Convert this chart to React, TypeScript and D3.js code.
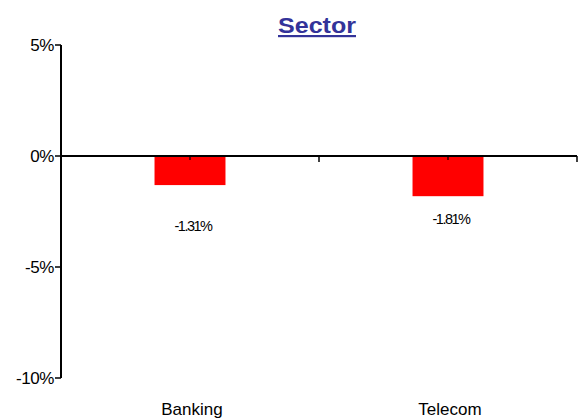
import React from "react";
import * as d3 from "d3";

const categories = ["Banking", "Telecom"];
const values = [-1.31, -1.81];
const valueLabels = ["-1.31%", "-1.81%"];
const labelPositions = [-3.15, -2.85];
const yTicks = [5, 0, -5, -10];
const yTickLabels = ["5%", "0%", "-5%", "-10%"];
const title = "Sector";

const W = 582;
const H = 419;
const margin = { left: 61, right: 5, top: 45, bottom: 41 };

export default function App() {
  const x = d3
    .scaleBand<string>()
    .domain(categories)
    .range([margin.left, W - margin.right])
    .paddingInner(0)
    .paddingOuter(0);
  const y = d3.scaleLinear().domain([-10, 5]).range([H - margin.bottom, margin.top]);
  const barW = x.bandwidth() * 0.275;
  const font = "'Liberation Sans', Arial, sans-serif";
  const boundaries = [margin.left, ...categories.map((c) => (x(c) as number) + x.bandwidth())];

  return (
    <svg
      width={W}
      height={H}
      style={{ position: "absolute", left: 0, top: 0, background: "#fff" }}
      fontFamily={font}
    >
      <text
        x={317}
        y={33}
        textAnchor="middle"
        fontSize={22}
        fontWeight="bold"
        fill="#333399"
        textDecoration="underline"
        textLength={78}
        lengthAdjust="spacingAndGlyphs"
      >
        {title}
      </text>
      {categories.map((c, i) => {
        const cx = (x(c) as number) + x.bandwidth() / 2;
        return (
          <rect
            key={c}
            x={cx - barW / 2}
            y={y(0)}
            width={barW}
            height={y(values[i]) - y(0)}
            fill="#ff0000"
          />
        );
      })}
      {/* y axis */}
      <line x1={margin.left} x2={margin.left} y1={y(5)} y2={y(-10)} stroke="#000" strokeWidth={2} />
      {yTicks.map((t, i) => (
        <g key={t}>
          <line x1={margin.left - 6} x2={margin.left} y1={y(t)} y2={y(t)} stroke="#000" strokeWidth={1.5} />
          <text
            x={margin.left - 7}
            y={y(t)}
            dy="0.35em"
            textAnchor="end"
            fontSize={17}
            letterSpacing={-0.4}
          >
            {yTickLabels[i]}
          </text>
        </g>
      ))}
      {/* x axis */}
      <line x1={margin.left} x2={W - margin.right} y1={y(0)} y2={y(0)} stroke="#000" strokeWidth={2} />
      {boundaries.map((bx, i) => (
        <line key={"b" + i} x1={bx} x2={bx} y1={y(0)} y2={y(0) + 6} stroke="#000" strokeWidth={1.5} />
      ))}
      {categories.map((c) => {
        const cx = (x(c) as number) + x.bandwidth() / 2;
        return (
          <line key={"t" + c} x1={cx} x2={cx} y1={y(0)} y2={y(0) + 4} stroke="#000" strokeWidth={1.2} />
        );
      })}
      {categories.map((c, i) => {
        const cx = (x(c) as number) + x.bandwidth() / 2;
        return (
          <text
            key={"l" + c}
            x={cx + 3}
            y={y(labelPositions[i])}
            dy="0.35em"
            textAnchor="middle"
            fontSize={14.5}
            letterSpacing={-1.5}
          >
            {valueLabels[i]}
          </text>
        );
      })}
      {categories.map((c) => {
        const cx = (x(c) as number) + x.bandwidth() / 2;
        return (
          <text key={"c" + c} x={cx + 2} y={415} textAnchor="middle" fontSize={17}>
            {c}
          </text>
        );
      })}
    </svg>
  );
}
